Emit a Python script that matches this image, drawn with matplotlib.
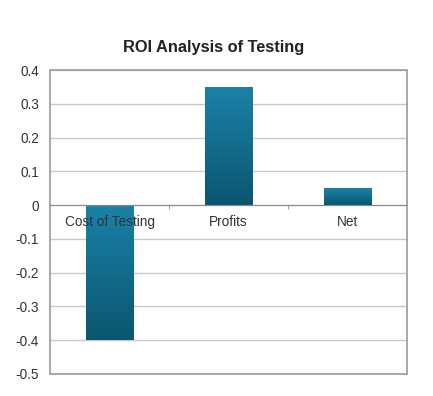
import numpy as np
import matplotlib.pyplot as plt
from matplotlib.colors import LinearSegmentedColormap
from matplotlib.patches import Rectangle

plt.rcParams['font.family'] = ['Liberation Sans', 'DejaVu Sans']

# data
categories = ['Cost of Testing', 'Profits', 'Net']
values = [-0.4, 0.35, 0.05]
yticks = [0.4, 0.3, 0.2, 0.1, 0, -0.1, -0.2, -0.3, -0.4, -0.5]
title = 'ROI Analysis of Testing'

fig = plt.figure(figsize=(4.33, 3.96), dpi=100)
ax = fig.add_axes([0.1155, 0.0556, 0.8245, 0.7674])

x = np.arange(len(categories))
bars = ax.bar(x, values, width=0.4, color='#136f90', zorder=3)

# teal gradient inside each bar, lighter on top
cmap = LinearSegmentedColormap.from_list('teal', ['#0b5670', '#1a82a8'])
grad = np.linspace(0, 1, 256).reshape(-1, 1)
for b in bars:
    x0, y0 = b.get_x(), b.get_y()
    w, h = b.get_width(), b.get_height()
    ylo, yhi = min(y0, y0 + h), max(y0, y0 + h)
    im = ax.imshow(grad, cmap=cmap, aspect='auto', origin='lower',
                   extent=[x0, x0 + w, ylo, yhi], zorder=3)
    im.set_clip_path(b)

ax.set_xlim(-0.5, len(categories) - 0.5)
ax.set_ylim(min(yticks), max(yticks))
ax.set_yticks(yticks)
ax.set_yticklabels([f'{t:g}' for t in yticks])
ax.yaxis.grid(True, color='#c8c8c8', linewidth=1.0, zorder=0)
ax.tick_params(axis='y', length=0, labelsize=9.8, pad=8, colors='#333333')

# category axis sits on zero, labels drawn over the bars
ax.spines['bottom'].set_position(('data', 0))
ax.spines['bottom'].set_color('#8c8c8c')
ax.spines['bottom'].set_zorder(4)
ax.xaxis.set_zorder(5)
ax.set_xticks(x)
ax.set_xticklabels(categories)
ax.set_xticks(x[:-1] + 0.5, minor=True)
ax.tick_params(axis='x', which='major', length=0, labelsize=9.8, pad=7, colors='#333333')
ax.tick_params(axis='x', which='minor', length=3, color='#8c8c8c')
for s in ['top', 'left', 'right']:
    ax.spines[s].set_visible(False)
ax.add_patch(Rectangle((0, 0), 1, 1, transform=ax.transAxes, fill=False,
                       edgecolor='#9a9a9a', linewidth=1.2, zorder=2, clip_on=False))

fig.text(0.494, 0.879, title, ha='center', va='center', fontsize=11.8,
         fontweight='bold', color='#222222')

fig.savefig('out.png', dpi=100)
